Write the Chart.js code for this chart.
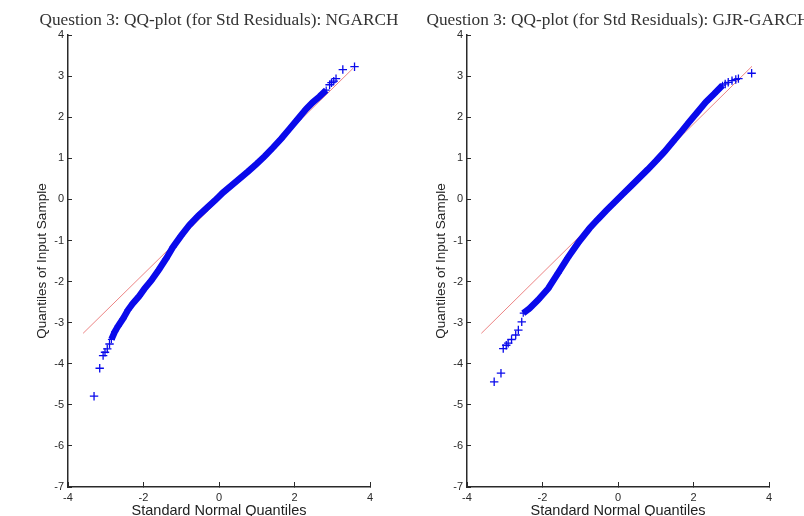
<!DOCTYPE html>
<html><head><meta charset="utf-8">
<script src="https://cdn.jsdelivr.net/npm/chart.js@4.4.0/dist/chart.umd.min.js"></script>
<style>
html,body{margin:0;padding:0;background:#fff;overflow:hidden}
#wrap{position:relative;width:804px;height:516px;overflow:hidden;background:#fff}
canvas{position:absolute;top:0}
#c1{left:0}
#c2{left:418px}
</style></head><body>
<div id="wrap"><canvas id="c1" width="438" height="516"></canvas><canvas id="c2" width="400" height="516"></canvas></div>
<script>
// ---- tick labels / titles ----
const xTicks = [-4, -2, 0, 2, 4];
const yTicks = [-7, -6, -5, -4, -3, -2, -1, 0, 1, 2, 3, 4];
const titles = ["Question 3: QQ-plot (for Std Residuals): NGARCH", "Question 3: QQ-plot (for Std Residuals): GJR-GARCH"];
const xLabel = "Standard Normal Quantiles";
const yLabel = "Quantiles of Input Sample";

// ---- NGARCH (left) ----
const ngBandX = [-2.85,-2.76,-2.67,-2.54,-2.41,-2.28,-2.12,-1.97,-1.80,-1.60,-1.40,-1.22,-1.00,-0.78,-0.55,-0.33,-0.10,0.11,0.33,0.55,0.77,0.99,1.21,1.43,1.65,1.87,2.09,2.31,2.48,2.66,2.84];
const ngBandY = [-3.41,-3.22,-3.08,-2.90,-2.69,-2.53,-2.36,-2.17,-1.98,-1.72,-1.44,-1.16,-0.88,-0.62,-0.40,-0.21,-0.02,0.17,0.34,0.51,0.68,0.86,1.05,1.26,1.48,1.72,1.96,2.20,2.36,2.50,2.66];
const ngTailX = [-3.31,-3.16,-3.07,-3.02,-2.96,-2.90,2.93,2.98,3.04,3.10,3.28,3.59];
const ngTailY = [-4.79,-4.11,-3.80,-3.72,-3.64,-3.52,2.79,2.84,2.88,2.94,3.16,3.23];
const ngRefX = [-3.60, 3.55];
const ngRefY = [-3.26, 3.19];

// ---- GJR-GARCH (right) ----
const gjBandX = [-2.51,-2.34,-2.12,-1.85,-1.59,-1.33,-1.05,-0.75,-0.53,-0.31,-0.09,0.13,0.35,0.57,0.79,1.01,1.23,1.45,1.67,1.89,2.11,2.33,2.55,2.77];
const gjBandY = [-2.77,-2.65,-2.45,-2.17,-1.80,-1.42,-1.05,-0.70,-0.48,-0.27,-0.07,0.13,0.33,0.53,0.73,0.94,1.16,1.40,1.64,1.89,2.13,2.37,2.57,2.78];
const gjTailX = [-3.28,-3.10,-3.04,-2.96,-2.91,-2.82,-2.71,-2.64,-2.55,2.84,2.92,3.02,3.12,3.19,3.54];
const gjTailY = [-4.44,-4.23,-3.63,-3.55,-3.50,-3.41,-3.30,-3.18,-2.98,2.81,2.85,2.89,2.92,2.94,3.07];
const gjRefX = [-3.62, 3.55];
const gjRefY = [-3.26, 3.24];

const BLUE = 'rgb(10,10,235)';
const RED = 'rgba(235,125,125,0.95)';
const AX = '#2a2a2a';

function pts(xs, ys) { return xs.map((x, i) => ({x: x, y: ys[i]})); }

function makeChart(id, title, bx, by, tx, ty, rx, ry, yw, yTitlePad, rightW) {
  return new Chart(document.getElementById(id), {
    type: 'scatter',
    data: {
      datasets: [
        { data: pts(bx, by), showLine: true, borderColor: BLUE, borderWidth: 6.5, tension: 0,
          pointStyle: 'cross', pointRadius: 3.5, pointBorderWidth: 1.2, pointBorderColor: BLUE, backgroundColor: BLUE },
        { data: pts(tx, ty), showLine: false, pointStyle: 'cross', pointRadius: 4.2,
          pointBorderWidth: 1.3, pointBorderColor: BLUE, backgroundColor: BLUE },
        { data: pts(rx, ry), showLine: true, borderColor: RED, borderWidth: 1, pointRadius: 0, tension: 0 }
      ]
    },
    options: {
      responsive: false,
      animation: false,
      layout: { padding: 0 },
      plugins: {
        legend: { display: false },
        tooltip: { enabled: false },
        title: { display: true, text: title, color: '#333',
          font: { family: 'Liberation Serif', size: 17.3, weight: 'normal' },
          padding: { top: 10, bottom: 4.3 } }
      },
      scales: {
        x: {
          type: 'linear', min: -4, max: 4,
          afterBuildTicks: s => { s.ticks = xTicks.map(v => ({value: v})); },
          afterFit: s => { s.height = 29; },
          ticks: { color: AX, padding: 9, font: { family: 'Liberation Sans', size: 11 } },
          grid: { drawOnChartArea: false, drawTicks: true, tickLength: -5, color: AX, lineWidth: 1 },
          border: { display: true, color: AX, width: 1.5 },
          title: { display: true, text: xLabel, color: '#222',
            font: { family: 'Liberation Sans', size: 14.5 }, padding: { top: 0, bottom: -4 } }
        },
        y: {
          type: 'linear', min: -7, max: 4,
          afterBuildTicks: s => { s.ticks = yTicks.map(v => ({value: v})); },
          afterFit: s => { s.width = yw; },
          ticks: { color: AX, padding: 8, font: { family: 'Liberation Sans', size: 11 } },
          grid: { drawOnChartArea: false, drawTicks: true, tickLength: -4, color: AX, lineWidth: 1 },
          border: { display: true, color: AX, width: 1.5 },
          title: { display: true, text: yLabel, color: '#222',
            font: { family: 'Liberation Sans', size: 13.5 }, padding: { top: yTitlePad, bottom: 0 } }
        },
        yr: {
          type: 'linear', position: 'right', min: -7, max: 4,
          afterFit: s => { s.width = rightW; },
          ticks: { display: false },
          grid: { display: false },
          border: { display: false }
        }
      }
    }
  });
}

makeChart('c1', titles[0], ngBandX, ngBandY, ngTailX, ngTailY, ngRefX, ngRefY, 68, 34, 68);
makeChart('c2', titles[1], gjBandX, gjBandY, gjTailX, gjTailY, gjRefX, gjRefY, 49, 15, 49);
</script>
</body></html>
